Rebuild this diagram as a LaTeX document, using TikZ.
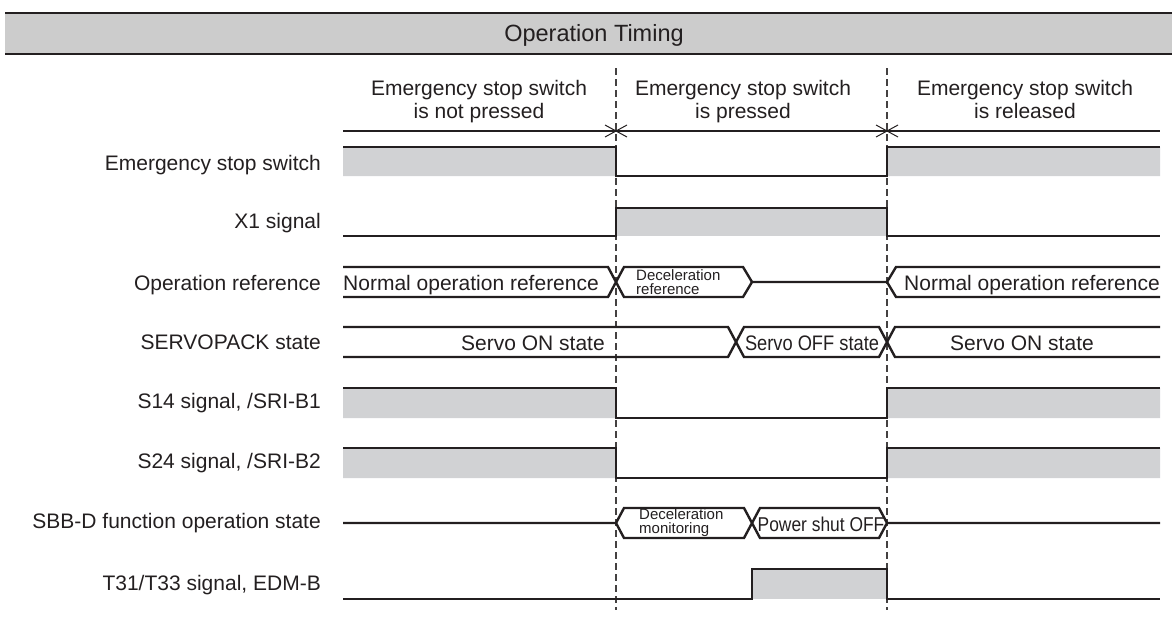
\documentclass[tikz,border=0pt]{standalone}
\usepackage{fontspec}
\setmainfont{Liberation Sans}
\newfontfamily\narrowsans[FakeStretch=0.87]{Liberation Sans}
\usepackage{xcolor}
\usetikzlibrary{positioning}
\definecolor{sigfill}{RGB}{209,210,212}
\definecolor{barfill}{RGB}{204,204,204}
\definecolor{ink}{RGB}{35,31,32}
\newcommand{\bodyfont}{\fontsize{21}{23}\selectfont}
\newcommand{\smallfont}{\fontsize{15}{14}\selectfont}

\begin{document}
\begin{tikzpicture}[x=1pt, y=-1pt,
  font=\bodyfont,
  sig/.style={draw=ink, line width=2.4pt, line join=miter},
  guide/.style={draw=ink!85, line width=1.1pt, dash pattern=on 7pt off 4pt},
  cross/.style={draw=ink, line width=1pt},
  lbl/.style={anchor=base east, inner sep=0pt, text=ink},
  val/.style={anchor=base, inner sep=0pt, text=ink},
  small/.style={align=left, anchor=west, inner sep=0pt, text=ink, font=\smallfont},
  phase/.style={align=center, anchor=north, inner sep=0pt, text=ink}
]
\useasboundingbox (0,0) rectangle (1172,627);

\fill[barfill] (5,13) rectangle (1172,54);
\draw[ink, line width=2.6pt] (5,13) -- (1172,13) (5,54) -- (1172,54);
\node[font=\fontsize{23.5}{26}\selectfont, anchor=base, inner sep=0pt, text=ink] (title) at (594,41) {Operation Timing};

\node[phase] (ph1) at (479,80) {Emergency stop switch\\ is not pressed};
\node[phase] (ph2) at (743,80) {Emergency stop switch\\ is pressed};
\node[phase] (ph3) at (1025,80) {Emergency stop switch\\ is released};

\node[lbl] (essl) at (321,170) {Emergency stop switch};
\node[lbl] (x1l) at (321,228) {X1 signal};
\node[lbl] (opl) at (321,290) {Operation reference};
\node[lbl] (spl) at (321,349) {SERVOPACK state};
\node[lbl] (s14l) at (321,408) {S14 signal, /SRI-B1};
\node[lbl] (s24l) at (321,468) {S24 signal, /SRI-B2};
\node[lbl] (sbbl) at (321,528) {SBB-D function operation state};
\node[lbl] (t31l) at (321,590) {T31/T33 signal, EDM-B};

\fill[sigfill] (343,147) rectangle (616,176) (887,147) rectangle (1160,176);
\fill[sigfill] (616,208) rectangle (887,236);
\fill[sigfill] (343,388) rectangle (616,418) (887,388) rectangle (1160,418);
\fill[sigfill] (343,448) rectangle (616,478) (887,448) rectangle (1160,478);
\fill[sigfill] (752,569) rectangle (887,599);

\coordinate (t1top) at (616,68);
\coordinate (t1bot) at (616,610);
\coordinate (t2top) at (887,68);
\coordinate (t2bot) at (887,610);
\draw[guide] (t1top) -- (t1bot);
\draw[guide] (t2top) -- (t2bot);

\draw[ink, line width=2pt] (343,131) -- (1160,131);
\draw[cross] (605,125) -- (627,137) (605,137) -- (627,125);
\draw[cross] (876,125) -- (898,137) (876,137) -- (898,125);

\draw[sig] (343,147) -- (616,147) -- (616,176) -- (887,176) -- (887,147) -- (1160,147);
\draw[sig] (343,236) -- (616,236) -- (616,208) -- (887,208) -- (887,236) -- (1160,236);

\draw[sig] (343,267) -- (608,267) -- (624,297) -- (743,297) -- (752,282) -- (887,282) -- (896,267) -- (1160,267);
\draw[sig] (343,297) -- (608,297) -- (624,267) -- (743,267) -- (752,282);
\draw[sig] (887,282) -- (896,297) -- (1160,297);

\draw[sig] (343,327) -- (728,327) -- (744,357) -- (879,357) -- (895,327) -- (1160,327);
\draw[sig] (343,357) -- (728,357) -- (744,327) -- (879,327) -- (895,357) -- (1160,357);

\draw[sig] (343,388) -- (616,388) -- (616,418) -- (887,418) -- (887,388) -- (1160,388);
\draw[sig] (343,448) -- (616,448) -- (616,478) -- (887,478) -- (887,448) -- (1160,448);

\draw[sig] (343,523) -- (616,523) -- (624,508) -- (744,508) -- (760,538) -- (879,538) -- (887,523) -- (1160,523);
\draw[sig] (616,523) -- (624,538) -- (744,538) -- (760,508) -- (879,508) -- (887,523);

\draw[sig] (343,599) -- (752,599) -- (752,569) -- (887,569) -- (887,599) -- (1160,599);

\node[val, anchor=base west] (opn1) at (343,290) {Normal operation reference};
\node[small] (opdec) at (636,282) {Deceleration\\ reference};
\node[val, anchor=base east] (opn2) at (1160,290) {Normal operation reference};
\node[val] (sv1) at (533,350) {Servo ON state};
\node[val, font=\fontsize{21}{23}\narrowsans] (sv2) at (812,350) {Servo OFF state};
\node[val] (sv3) at (1022,350) {Servo ON state};
\node[small] (sbdec) at (639,523) {Deceleration\\ monitoring};
\node[val, font=\fontsize{20}{22}\narrowsans] (sbpow) at (821,531) {Power shut OFF};
\end{tikzpicture}
\end{document}
